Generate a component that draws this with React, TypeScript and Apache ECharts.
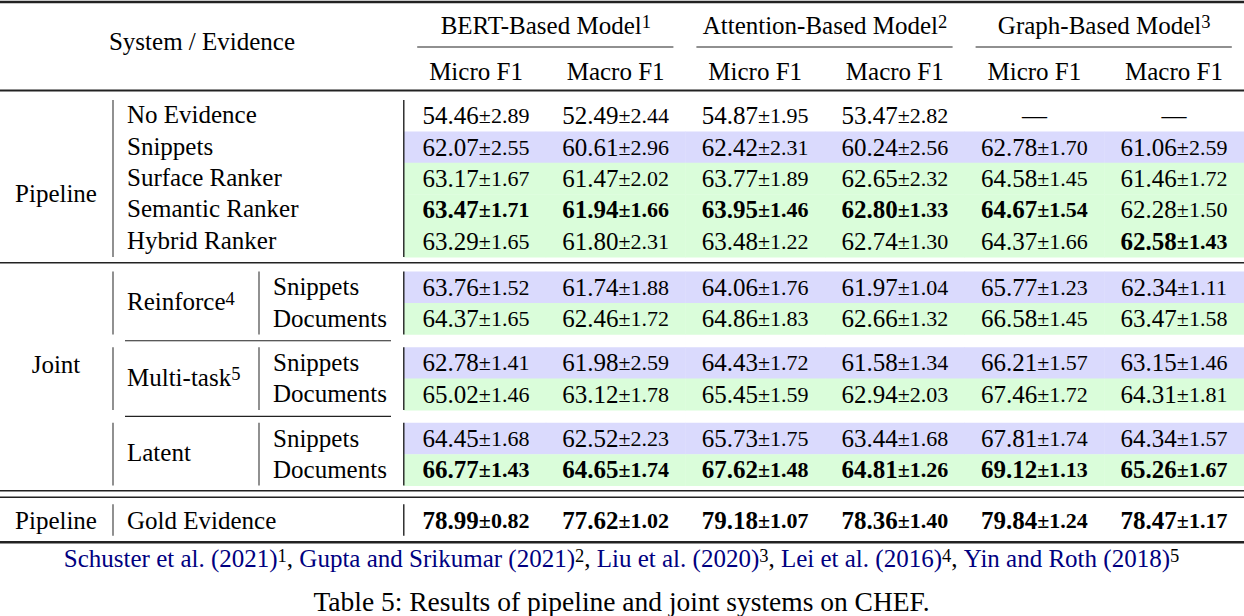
import React, { useEffect, useRef } from "react";
import * as echarts from "echarts";

const FONT = "'Liberation Serif', 'Times New Roman', Times, serif";

// ---------- data ----------
const systemHeader = "System / Evidence";
const modelGroups = ["BERT-Based Model", "Attention-Based Model", "Graph-Based Model"];
const modelRefs = ["1", "2", "3"];
const metricLabels = ["Micro F1", "Macro F1", "Micro F1", "Macro F1", "Micro F1", "Macro F1"];
const columnKeys = ["bert_micro", "bert_macro", "att_micro", "att_macro", "graph_micro", "graph_macro"];

const pipelineName = "Pipeline";
const pipelineRows = ["No Evidence", "Snippets", "Surface Ranker", "Semantic Ranker", "Hybrid Ranker"];
const pipelineMean: (number | null)[][] = [
  [54.46, 52.49, 54.87, 53.47, null, null],
  [62.07, 60.61, 62.42, 60.24, 62.78, 61.06],
  [63.17, 61.47, 63.77, 62.65, 64.58, 61.46],
  [63.47, 61.94, 63.95, 62.8, 64.67, 62.28],
  [63.29, 61.8, 63.48, 62.74, 64.37, 62.58],
];
const pipelineStd: (number | null)[][] = [
  [2.89, 2.44, 1.95, 2.82, null, null],
  [2.55, 2.96, 2.31, 2.56, 1.7, 2.59],
  [1.67, 2.02, 1.89, 2.32, 1.45, 1.72],
  [1.71, 1.66, 1.46, 1.33, 1.54, 1.5],
  [1.65, 2.31, 1.22, 1.3, 1.66, 1.43],
];
const pipelineBest = [
  [0, 0, 0, 0, 0, 0],
  [0, 0, 0, 0, 0, 0],
  [0, 0, 0, 0, 0, 0],
  [1, 1, 1, 1, 1, 0],
  [0, 0, 0, 0, 0, 1],
];

const jointName = "Joint";
const jointMethods = ["Reinforce", "Multi-task", "Latent"];
const jointRefs = ["4", "5", ""];
const jointEvidence = ["Snippets", "Documents"];
// rows: Reinforce-Snippets, Reinforce-Documents, Multi-task-Snippets, ...
const jointMean = [
  [63.76, 61.74, 64.06, 61.97, 65.77, 62.34],
  [64.37, 62.46, 64.86, 62.66, 66.58, 63.47],
  [62.78, 61.98, 64.43, 61.58, 66.21, 63.15],
  [65.02, 63.12, 65.45, 62.94, 67.46, 64.31],
  [64.45, 62.52, 65.73, 63.44, 67.81, 64.34],
  [66.77, 64.65, 67.62, 64.81, 69.12, 65.26],
];
const jointStd = [
  [1.52, 1.88, 1.76, 1.04, 1.23, 1.11],
  [1.65, 1.72, 1.83, 1.32, 1.45, 1.58],
  [1.41, 2.59, 1.72, 1.34, 1.57, 1.46],
  [1.46, 1.78, 1.59, 2.03, 1.72, 1.81],
  [1.68, 2.23, 1.75, 1.68, 1.74, 1.57],
  [1.43, 1.74, 1.48, 1.26, 1.13, 1.67],
];
const jointBest = [
  [0, 0, 0, 0, 0, 0],
  [0, 0, 0, 0, 0, 0],
  [0, 0, 0, 0, 0, 0],
  [0, 0, 0, 0, 0, 0],
  [0, 0, 0, 0, 0, 0],
  [1, 1, 1, 1, 1, 1],
];

const goldLabel = "Gold Evidence";
const goldMean = [78.99, 77.62, 79.18, 78.36, 79.84, 78.47];
const goldStd = [0.82, 1.02, 1.07, 1.4, 1.24, 1.17];
const goldBest = [1, 1, 1, 1, 1, 1];

const footnoteCites = [
  "Schuster et al. (2021)",
  "Gupta and Srikumar (2021)",
  "Liu et al. (2020)",
  "Lei et al. (2016)",
  "Yin and Roth (2018)",
];
const caption = "Table 5: Results of pipeline and joint systems on CHEF.";

// ---------- layout ----------
const W = 1244;
const H = 616;
const GRID_LEFT = 406.2;
const GRID_TOP = 100;
const BAND = 139.6;
const SLOT = 31.4;
const Y_MAX = 14;
const J0 = 5.465;
const JG = 2.408;
const GOLD_S = 12.876;

const LAVENDER = "#dadafd";
const GREEN = "#dafdda";
const RULE = "#222";
const FS = 25;
const FS_SMALL = 22;
const FS_SUP = 18.5;

const px = (s: number) => GRID_TOP + s * SLOT;
const colCenter = (c: number) => GRID_LEFT + (c + 0.5) * BAND;
const jointS = (g: number, r: number) => J0 + g * JG + r + 0.5;

type Cell = { col: number; s: number; mean: number | null; std: number | null; bold: boolean; bg: string | null };

function buildCells(): Cell[] {
  const cells: Cell[] = [];
  pipelineRows.forEach((_, i) => {
    columnKeys.forEach((_, c) => {
      cells.push({
        col: c,
        s: i + 0.5,
        mean: pipelineMean[i][c],
        std: pipelineStd[i][c],
        bold: !!pipelineBest[i][c],
        bg: i === 0 ? null : i === 1 ? LAVENDER : GREEN,
      });
    });
  });
  jointMean.forEach((row, k) => {
    const g = Math.floor(k / 2);
    const r = k % 2;
    row.forEach((m, c) => {
      cells.push({ col: c, s: jointS(g, r), mean: m, std: jointStd[k][c], bold: !!jointBest[k][c], bg: r === 0 ? LAVENDER : GREEN });
    });
  });
  goldMean.forEach((m, c) => {
    cells.push({ col: c, s: GOLD_S + 0.5, mean: m, std: goldStd[c], bold: !!goldBest[c], bg: null });
  });
  return cells;
}

function richBase(weight: string = "normal") {
  return {
    m: { fontFamily: FONT, fontSize: FS, fontWeight: weight, fill: "#000" },
    s: { fontFamily: FONT, fontSize: FS_SMALL, fontWeight: weight, fill: "#000" },
    u: { fontFamily: FONT, fontSize: FS_SUP, fill: "#000", verticalAlign: "top", lineHeight: 15 },
    c: { fontFamily: FONT, fontSize: FS, fill: "#000080" },
    k: { fontFamily: FONT, fontSize: FS, fill: "#000" },
  };
}

function txt(text: string, x: number, y: number, align: string = "left", fontSize: number = FS) {
  const rich: any = richBase();
  rich.m.fontSize = fontSize;
  return {
    type: "text",
    x,
    y,
    z: 100,
    silent: true,
    style: { text, textAlign: align, textVerticalAlign: "middle", rich, fontFamily: FONT, fontSize },
  };
}

function hline(x1: number, x2: number, y: number, lw: number, color: string = RULE) {
  return { type: "line", z: 100, silent: true, shape: { x1, y1: y, x2, y2: y }, style: { stroke: color, lineWidth: lw } };
}
function vline(x: number, y1: number, y2: number, lw: number, color: string) {
  return { type: "line", z: 100, silent: true, shape: { x1: x, y1, x2: x, y2 }, style: { stroke: color, lineWidth: lw } };
}

function buildGraphic() {
  const g: any[] = [];
  // rules
  g.push(hline(0, W, 2, 2.5));
  modelGroups.forEach((_, i) => {
    g.push(hline(GRID_LEFT + i * 2 * BAND + 11, GRID_LEFT + (i + 1) * 2 * BAND - 12, 47, 1.1));
  });
  g.push(hline(0, W, 90.5, 2));
  g.push(hline(0, W, 262.8, 1.4));
  for (let k = 1; k < jointMethods.length; k++) {
    const y = px(J0 + k * JG) - ((JG - 2) * SLOT) / 2;
    g.push(hline(125, 391, y, 1.1));
  }
  g.push(hline(0, W, 490.7, 1.4));
  g.push(hline(0, W, 497.2, 1.4));
  g.push(hline(0, W, 542.3, 2.5));

  // vertical bars
  const spans: [number, number][] = [[px(0), px(pipelineRows.length)]];
  const jointSpans: [number, number][] = jointMethods.map((_, k) => [px(J0 + k * JG), px(J0 + k * JG + 2)]);
  const goldSpan: [number, number] = [px(GOLD_S), px(GOLD_S + 1)];
  [...spans, ...jointSpans, goldSpan].forEach(([a, b]) => {
    g.push(vline(113, a, b, 1.3, "#555"));
    g.push(vline(403.8, a, b, 1.3, "#111"));
  });
  jointSpans.forEach(([a, b]) => g.push(vline(259, a, b, 1.3, "#555")));

  // header texts
  g.push(txt(`{m|${systemHeader}}`, 202, 41, "center"));
  modelGroups.forEach((name, i) => {
    const cx = (colCenter(2 * i) + colCenter(2 * i + 1)) / 2;
    g.push(txt(`{m|${name}}{u|${modelRefs[i]}}`, cx, 25, "center"));
  });
  metricLabels.forEach((m, c) => g.push(txt(`{m|${m}}`, colCenter(c), 71, "center")));

  // pipeline labels
  g.push(txt(`{m|${pipelineName}}`, 56, (px(2.5) + px(3.5)) / 2 - 1, "center"));
  pipelineRows.forEach((r, i) => g.push(txt(`{m|${r}}`, 127, px(i + 0.5) - 1, "left")));

  // joint labels
  g.push(txt(`{m|${jointName}}`, 56, px(jointS(1, 0)) + 2, "center"));
  jointMethods.forEach((m, k) => {
    const y = px(J0 + k * JG + 1) - 1.5;
    const sup = jointRefs[k] ? `{u|${jointRefs[k]}}` : "";
    g.push(txt(`{m|${m}}${sup}`, 127, y, "left"));
    jointEvidence.forEach((e, r) => g.push(txt(`{m|${e}}`, 273, px(jointS(k, r)) - 0.5, "left")));
  });

  // gold
  g.push(txt(`{m|${pipelineName}}`, 56, px(GOLD_S + 0.5), "center"));
  g.push(txt(`{m|${goldLabel}}`, 127, px(GOLD_S + 0.5), "left"));

  // footnote
  const foot = footnoteCites.map((c, i) => `{c|${c}}{u|${i + 1}}`).join("{k|, }");
  g.push(txt(foot, 621.5, 558.5, "center"));

  // caption
  g.push(txt(`{m|${caption}}`, 621.5, 601, "center", 27.5));
  return g;
}

export default function App() {
  const ref = useRef<HTMLDivElement>(null);
  useEffect(() => {
    if (!ref.current) return;
    const chart = echarts.init(ref.current, undefined, { renderer: "svg" });
    const cells = buildCells();
    chart.setOption({
      animation: false,
      backgroundColor: "#fff",
      grid: { left: GRID_LEFT, top: GRID_TOP, width: BAND * columnKeys.length, height: SLOT * Y_MAX },
      xAxis: { type: "category", data: columnKeys, show: false, boundaryGap: true },
      yAxis: { type: "value", min: 0, max: Y_MAX, inverse: true, show: false },
      series: [
        {
          type: "custom",
          silent: true,
          data: cells.map((c) => [c.col, c.s]),
          renderItem: (params: any, api: any) => {
            const cell = cells[params.dataIndex];
            const p = api.coord([api.value(0), api.value(1)]);
            const bw = api.size([1, 0])[0];
            const rh = api.size([0, 1])[1];
            const children: any[] = [];
            if (cell.bg) {
              let x0 = p[0] - bw / 2;
              let x1 = p[0] + bw / 2;
              if (cell.col === 0) x0 -= 2.4;
              if (cell.col === columnKeys.length - 1) x1 += 1;
              children.push({
                type: "rect",
                shape: { x: x0, y: p[1] - rh / 2, width: x1 - x0 + 0.4, height: rh + 0.4 },
                style: { fill: cell.bg },
              });
            }
            const w = cell.bold ? "bold" : "normal";
            const text =
              cell.mean == null
                ? "{m|—}"
                : `{m|${cell.mean.toFixed(2)}}{s|±${(cell.std as number).toFixed(2)}}`;
            children.push({
              type: "text",
              x: p[0],
              y: p[1],
              style: { text, textAlign: "center", textVerticalAlign: "middle", rich: richBase(w), fontFamily: FONT, fontSize: FS },
            });
            return { type: "group", children };
          },
        },
      ],
      graphic: buildGraphic(),
    });
    return () => chart.dispose();
  }, []);
  return (
    <div
      ref={ref}
      style={{ position: "fixed", left: 0, top: 0, width: W, height: H, background: "#fff" }}
    />
  );
}
